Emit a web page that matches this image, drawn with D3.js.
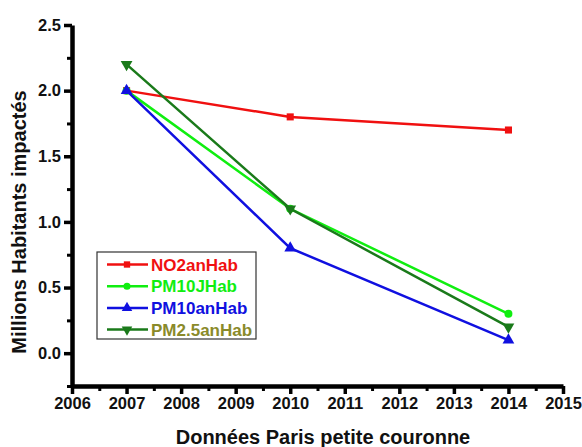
<!DOCTYPE html>
<html>
<head>
<meta charset="utf-8">
<script src="https://cdn.jsdelivr.net/npm/d3@7"></script>
<style>
  body { margin: 0; background: #fff; }
  text { font-family: "Liberation Sans", Arial, sans-serif; font-weight: bold; }
  .axis path.domain { stroke: #000; stroke-width: 4.5px; }
  .axis .tick line { stroke: #000; stroke-width: 3.5px; }
  .axis .tick text { fill: #111; font-size: 16.5px; }
  .minor .tick line { stroke: #000; stroke-width: 3px; }
</style>
</head>
<body>
<div id="chart"></div>
<script>
// Data
var years = [2007, 2010, 2014];
var no2anHab = [2.0, 1.8, 1.7];
var pm10JHab = [2.0, 1.1, 0.3];
var pm10anHab = [2.0, 0.8, 0.1];
var pm25anHab = [2.2, 1.1, 0.2];
var xTicks = [2006, 2007, 2008, 2009, 2010, 2011, 2012, 2013, 2014, 2015];
var yTicks = [0.0, 0.5, 1.0, 1.5, 2.0, 2.5];

var series = [
  { name: "NO2anHab", values: no2anHab, color: "#f01010", text: "#f01010", symbol: d3.symbolSquare, size: 50, rot: 0 },
  { name: "PM10JHab", values: pm10JHab, color: "#10ee10", text: "#10ee10", symbol: d3.symbolCircle, size: 50, rot: 0 },
  { name: "PM10anHab", values: pm10anHab, color: "#1010e0", text: "#1010e0", symbol: d3.symbolTriangle, size: 60, rot: 0 },
  { name: "PM2.5anHab", values: pm25anHab, color: "#1a7a1a", text: "#8a8a2a", symbol: d3.symbolTriangle, size: 60, rot: 180 }
];

var svgWidth = 582;
var svgHeight = 447;
var margin = { top: 25, right: 19, bottom: 61, left: 72 };
var width = svgWidth - margin.left - margin.right;
var height = svgHeight - margin.top - margin.bottom;

var svg = d3.select("#chart")
  .append("svg")
  .attr("width", svgWidth)
  .attr("height", svgHeight);

var chartGroup = svg.append("g")
  .attr("transform", `translate(${margin.left}, ${margin.top})`);

var x = d3.scaleLinear().domain([2006, 2015]).range([0, width]);
var y = d3.scaleLinear().domain([-0.25, 2.5]).range([height, 0]);

// Minor ticks
var xMinor = d3.range(2006.5, 2015, 1);
var yMinor = d3.range(-0.25, 2.5, 0.5);

chartGroup.append("g")
  .attr("class", "minor")
  .attr("transform", `translate(0, ${height})`)
  .call(d3.axisBottom(x).tickValues(xMinor).tickSize(5).tickFormat(""))
  .call(g => g.select(".domain").remove());

chartGroup.append("g")
  .attr("class", "minor")
  .call(d3.axisLeft(y).tickValues(yMinor).tickSize(5).tickFormat(""))
  .call(g => g.select(".domain").remove());

// Major axes
chartGroup.append("g")
  .attr("class", "axis")
  .attr("transform", `translate(0, ${height})`)
  .call(d3.axisBottom(x).tickValues(xTicks).tickSize(8).tickSizeOuter(0).tickPadding(3).tickFormat(d3.format("d")));

chartGroup.append("g")
  .attr("class", "axis")
  .call(d3.axisLeft(y).tickValues(yTicks).tickSize(8).tickSizeOuter(0).tickPadding(3).tickFormat(d3.format(".1f")));

// Axis labels
svg.append("text")
  .attr("transform", `translate(26, 222) rotate(-90)`)
  .attr("text-anchor", "middle")
  .attr("font-size", 20)
  .attr("fill", "#111")
  .text("Millions Habitants impactés");

svg.append("text")
  .attr("x", 323)
  .attr("y", 444)
  .attr("text-anchor", "middle")
  .attr("font-size", 20)
  .attr("fill", "#111")
  .text("Données Paris petite couronne");

// Lines and markers
var line = d3.line()
  .x((d, i) => x(years[i]))
  .y(d => y(d));

series.forEach(function (s) {
  chartGroup.append("path")
    .datum(s.values)
    .attr("fill", "none")
    .attr("stroke", s.color)
    .attr("stroke-width", 2.5)
    .attr("d", line);

  chartGroup.selectAll(null)
    .data(s.values)
    .enter()
    .append("path")
    .attr("d", d3.symbol().type(s.symbol).size(s.size))
    .attr("transform", (d, i) => `translate(${x(years[i])}, ${y(d)}) rotate(${s.rot})`)
    .attr("fill", s.color);
});

// Legend
var legend = svg.append("g").attr("transform", "translate(97, 252)");
legend.append("rect")
  .attr("width", 159)
  .attr("height", 87)
  .attr("fill", "#fff")
  .attr("stroke", "#333")
  .attr("stroke-width", 1.2);

series.forEach(function (s, i) {
  var row = legend.append("g").attr("transform", `translate(0, ${12.5 + i * 21.7})`);
  row.append("line")
    .attr("x1", 10).attr("x2", 51)
    .attr("stroke", s.color)
    .attr("stroke-width", 2.5);
  row.append("path")
    .attr("d", d3.symbol().type(s.symbol).size(s.size * 0.8))
    .attr("transform", `translate(30, 0) rotate(${s.rot})`)
    .attr("fill", s.color);
  row.append("text")
    .attr("x", 54)
    .attr("dy", "0.36em")
    .attr("font-size", 17)
    .attr("fill", s.text)
    .text(s.name);
});
</script>
</body>
</html>
